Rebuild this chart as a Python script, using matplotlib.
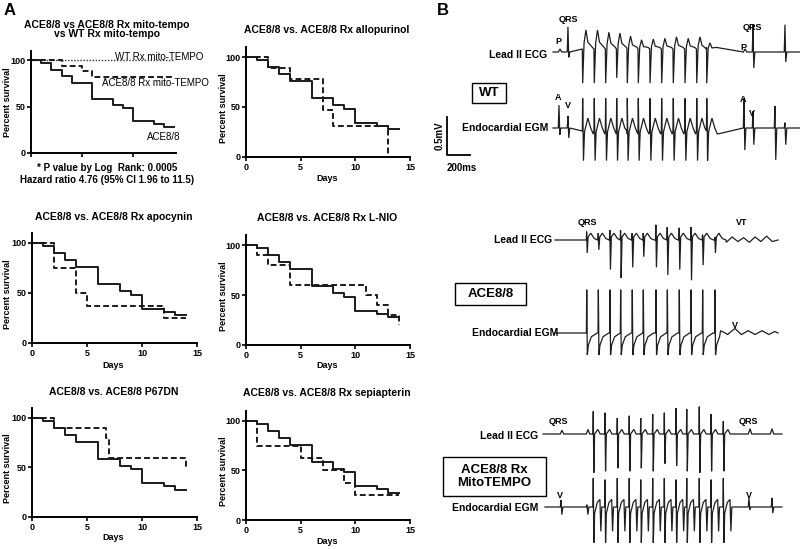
import matplotlib.pyplot as plt
from matplotlib.patches import Rectangle

plt.rcParams['font.family'] = ['Liberation Sans', 'DejaVu Sans']
plt.rcParams['font.weight'] = 'bold'

W, H = 800, 549

# ---------------- Panel A: Kaplan-Meier data (days, % survival) ----------------
ace_days = [0, 1, 2, 3, 4, 6, 8, 9, 10, 12, 13, 14]
ace_surv = [100, 96.6, 89.7, 82.8, 75.9, 58.6, 51.7, 48.3, 34.5, 31.0, 27.6, 27.6]

wt_mito_days = [0, 14]
wt_mito_surv = [100, 100]
ace_mito_days = [0, 3, 5, 6, 14]
ace_mito_surv = [100, 94.1, 88.2, 82.4, 82.4]

allo_days = [0, 2, 4, 7, 8, 13]
allo_surv = [100, 88.9, 77.8, 46.7, 31.1, 0]
apo_days = [0, 2, 4, 5, 12, 14]
apo_surv = [100, 75, 50, 37.5, 25, 25]
lnio_days = [0, 1, 2, 4, 11, 12, 13, 14]
lnio_surv = [100, 90, 80, 60, 50, 40, 30, 20]
p67_days = [0, 2, 6.7, 7, 14]
p67_surv = [100, 90, 80, 60, 50]
sepi_days = [0, 1, 5, 7, 9, 10, 14]
sepi_surv = [100, 75, 62.5, 50, 37.5, 25, 25]

km_titles = ["ACE8/8 vs. ACE8/8 Rx allopurinol",
             "ACE8/8 vs. ACE8/8 Rx apocynin",
             "ACE8/8 vs. ACE8/8 Rx L-NIO",
             "ACE8/8 vs. ACE8/8 P67DN",
             "ACE8/8 vs. ACE8/8 Rx sepiapterin"]
y_ticks = [0, 50, 100]
x_ticks = [0, 5, 10, 15]

# ---------------- Panel B: ECG / EGM beats (ms from trace start, mV) ----------------
MS_PER_PX = 200 / 23.0
MV_PER_PX = 0.5 / 38.0

# WT
wt_p_t = [61, 1670]
wt_p_amp = [0.04, 0.04]
wt_qrs_t = [130, 1739, 2017]
wt_qrs_up = [0.33, 0.36, 0.36]
wt_qrs_dn = [0.07, 0.21, 0.13]
wt_burst_t = [258, 359, 458, 554, 646, 742, 844, 945, 1046, 1148, 1250, 1337]
wt_ecg_up = [0.29, 0.29, 0.26, 0.25, 0.21, 0.16, 0.17, 0.18, 0.20, 0.18, 0.20, 0.12]
wt_ecg_dn = [0.41, 0.41, 0.41, 0.34, 0.41, 0.41, 0.41, 0.41, 0.41, 0.41, 0.41, 0.41]
wt_egm_up = [0.39, 0.39, 0.39, 0.39, 0.39, 0.39, 0.39, 0.39, 0.39, 0.39, 0.39, 0.39]
wt_egm_dn = [0.43, 0.43, 0.43, 0.43, 0.43, 0.43, 0.43, 0.43, 0.43, 0.43, 0.43, 0.43]
wt_a_t = [52, 1661, 1930]
wt_a_up = [0.30, 0.39, 0.29]
wt_a_dn = [0.09, 0.29, 0.42]
wt_v_t = [130, 1739, 2017]
wt_v_up = [0.16, 0.22, 0.07]
wt_v_dn = [0.13, 0.22, 0.22]
wt_end = 2148

# ACE8/8
ace_burst_t = [276, 377, 478, 571, 672, 768, 878, 977, 1081, 1183, 1284, 1391]
ace_ecg_up = [0.11, 0.09, 0.13, 0.13, 0.09, 0.09, 0.20, 0.17, 0.16, 0.17, 0.07, 0.04]
ace_ecg_dn = [0.17, 0.13, 0.39, 0.50, 0.36, 0.22, 0.36, 0.46, 0.39, 0.53, 0.33, 0.17]
ace_egm_up = [0.57, 0.57, 0.57, 0.57, 0.57, 0.57, 0.57, 0.57, 0.57, 0.57, 0.57, 0.57]
ace_egm_dn = [0.29, 0.29, 0.29, 0.29, 0.29, 0.29, 0.29, 0.29, 0.29, 0.29, 0.29, 0.29]
vt_ecg_t = [1440, 1490, 1540, 1590, 1640, 1690, 1740, 1790, 1840, 1890]
vt_ecg_v = [0.05, -0.03, 0.04, -0.02, 0.03, -0.03, 0.04, -0.02, 0.05, -0.02]
vt_egm_t = [1440, 1500, 1565, 1620, 1680, 1740, 1800, 1860, 1910]
vt_egm_v = [0.03, -0.02, 0.06, -0.02, 0.03, -0.02, 0.03, -0.02, 0.02]
ace_end = 1939

# ACE8/8 Rx MitoTEMPO
mito_qrs_t = [165, 391, 1800, 1991]
mito_qrs_up = [0.05, 0.06, 0.07, 0.07]
mito_burst_t = [437, 539, 646, 750, 850, 954, 1055, 1157, 1250, 1359, 1461, 1568]
mito_ecg_up = [0.30, 0.28, 0.21, 0.24, 0.21, 0.26, 0.28, 0.34, 0.33, 0.36, 0.26, 0.17]
mito_ecg_dn = [0.51, 0.49, 0.45, 0.49, 0.45, 0.49, 0.39, 0.42, 0.49, 0.51, 0.49, 0.49]
mito_egm_up = [0.38, 0.36, 0.38, 0.38, 0.36, 0.38, 0.38, 0.36, 0.38, 0.38, 0.36, 0.38]
mito_egm_dn = [0.47, 0.47, 0.47, 0.47, 0.47, 0.47, 0.47, 0.47, 0.47, 0.47, 0.47, 0.47]
mito_v_t = [157, 383, 1791, 1991]
mito_v_up = [0.09, 0.03, 0.12, 0.12]
mito_v_dn = [0.10, 0.10, 0.04, 0.08]
mito_end = 2078


def fx(x):
    return x / W


def fy(y):
    return 1 - y / H


def km_axes(left, bottom, width, height, xmax, xlabels=True):
    ax = fig.add_axes([fx(left), fy(bottom), width / W, height / H])
    ax.set_xlim(0, xmax)
    ax.set_ylim(0, 110)
    for s in ['top', 'right']:
        ax.spines[s].set_visible(False)
    for s in ['left', 'bottom']:
        ax.spines[s].set_linewidth(1.4)
    ax.set_yticks(y_ticks)
    ax.set_xticks([t for t in x_ticks if t <= xmax])
    ax.tick_params(length=3, width=1.2, labelsize=6.5, pad=1)
    if not xlabels:
        ax.set_xticklabels([])
    for lab in ax.get_xticklabels() + ax.get_yticklabels():
        lab.set_fontweight('bold')
    return ax


def km(ax, days, surv, ls='-'):
    if ls == '-':
        ax.step(days, surv, where='post', color='#1a1a1a', lw=1.4, clip_on=False)
    elif ls == '--':
        ax.step(days, surv, where='post', color='#1a1a1a', lw=1.4, dashes=(3, 1.6), clip_on=False)
    else:
        ax.step(days, surv, where='post', color='#333333', lw=1.0, dashes=(1, 1.2), clip_on=False)


fig = plt.figure(figsize=(W / 100, H / 100), dpi=100)

# ---- Panel A ----
fig.text(fx(4), fy(3), "A", fontsize=12, fontweight='bold', va='top')

ax1 = km_axes(31, 153, 145, 102, 14.2, xlabels=False)
km(ax1, wt_mito_days, wt_mito_surv, ':')
km(ax1, ace_mito_days, ace_mito_surv, '--')
km(ax1, ace_days, ace_surv, '-')
fig.text(fx(107), fy(25), "ACE8/8 vs ACE8/8 Rx mito-tempo", fontsize=7.5, ha='center', va='center')
fig.text(fx(107), fy(34), "vs WT Rx mito-tempo", fontsize=7.5, ha='center', va='center')
fig.text(fx(115), fy(57), "WT Rx mito-TEMPO", fontsize=7, fontweight='normal', va='center')
fig.text(fx(102), fy(83), "ACE8/8 Rx mito-TEMPO", fontsize=7, fontweight='normal', va='center')
fig.text(fx(147), fy(137), "ACE8/8", fontsize=7, fontweight='normal', va='center')
fig.text(fx(107), fy(168), "* P value by Log  Rank: 0.0005", fontsize=7, ha='center', va='center')
fig.text(fx(107), fy(180), "Hazard ratio 4.76 (95% CI 1.96 to 11.5)", fontsize=7, ha='center', va='center')
fig.text(fx(7), fy(102), "Percent survival", fontsize=6.5, rotation=90, ha='center', va='center')

# remaining five survival plots
km_boxes = [(246, 157, 164, 110), (32, 343, 165, 110), (246, 345, 164, 110),
            (32, 517, 165, 109), (246, 520, 164, 109)]
km_title_y = [30, 217, 218, 392, 393]
km_days_y = [178, 365, 365, 538, 542]
km_treated = [(allo_days, allo_surv), (apo_days, apo_surv), (lnio_days, lnio_surv),
              (p67_days, p67_surv), (sepi_days, sepi_surv)]
for (l, b, w, h), title, ty, dy, (d, s) in zip(km_boxes, km_titles, km_title_y, km_days_y, km_treated):
    ax = km_axes(l, b, w, h, 15)
    km(ax, ace_days, ace_surv, '-')
    km(ax, d, s, '--')
    cx = l + w / 2 - 1
    fig.text(fx(cx), fy(ty), title, fontsize=7.5, ha='center', va='center')
    fig.text(fx(cx), fy(dy), "Days", fontsize=6.5, ha='center', va='center')
    ylx = 7 if l < 100 else 223
    fig.text(fx(ylx), fy(b - h / 2 + 6), "Percent survival", fontsize=6.5, rotation=90,
             ha='center', va='center')

# ---- Panel B ----
fig.text(fx(437), fy(3), "B", fontsize=12, fontweight='bold', va='top')
axb = fig.add_axes([fx(430), 0, (W - 430) / W, 1])
axb.set_xlim(0, (W - 430) * MS_PER_PX)
axb.set_ylim(0, H * MV_PER_PX)
axb.axis('off')


def spike(t, up, dn):
    return [(t - 6, 0), (t, up), (t + 7, -dn), (t + 16, 0)]


def bump(t, up):
    return [(t - 15, 0), (t, up), (t + 15, 0)]


def wt_ecg_beat(t, up, dn):
    return [(t - 3, 0.04), (t, -dn), (t + 12, up * 0.4), (t + 28, up),
            (t + 45, up * 0.45), (t + 85, 0.06)]


def wt_egm_beat(t, up, dn):
    return [(t - 3, -0.04), (t, up), (t + 7, -dn), (t + 16, -0.05), (t + 45, 0.13),
            (t + 70, 0.0), (t + 92, -0.08)]


def ace_ecg_beat(t, up, dn):
    return [(t - 4, 0), (t - 1, up), (t + 4, -dn), (t + 12, 0.04), (t + 35, 0.09),
            (t + 65, 0.02), (t + 95, 0.0)]


def ace_egm_beat(t, up, dn):
    return [(t - 3, 0), (t, up), (t + 5, -dn), (t + 14, -0.16), (t + 40, -0.05), (t + 90, 0.0)]


def mito_ecg_beat(t, up, dn):
    return [(t - 3, 0), (t, up), (t + 5, -dn), (t + 12, 0.0), (t + 40, 0.06), (t + 60, 0.0)]


def mito_egm_beat(t, up, dn):
    return [(t - 3, 0), (t, up), (t + 5, -dn), (t + 12, -0.08), (t + 35, 0.06), (t + 58, 0.1),
            (t + 66, -0.32), (t + 74, 0.0)]


def draw_trace(t0_px, base_px, start, end, pieces):
    pts = [(start, 0.0), (end, 0.0)]
    for p in pieces:
        pts += p
    pts.sort(key=lambda q: q[0])
    t0 = (t0_px - 430) * MS_PER_PX
    base = (H - base_px) * MV_PER_PX
    axb.plot([t0 + q[0] for q in pts], [base + q[1] for q in pts],
             color='#1e1e1e', lw=0.9, solid_joinstyle='miter')


# WT traces
pieces = [bump(t, a) for t, a in zip(wt_p_t, wt_p_amp)]
pieces += [spike(t, u, d) for t, u, d in zip(wt_qrs_t, wt_qrs_up, wt_qrs_dn)]
pieces += [wt_ecg_beat(t, u, d) for t, u, d in zip(wt_burst_t, wt_ecg_up, wt_ecg_dn)]
draw_trace(553, 52, 0, wt_end, pieces)
pieces = [spike(t, u, d) for t, u, d in zip(wt_a_t, wt_a_up, wt_a_dn)]
pieces += [spike(t, u, d) for t, u, d in zip(wt_v_t, wt_v_up, wt_v_dn)]
pieces += [wt_egm_beat(t, u, d) for t, u, d in zip(wt_burst_t, wt_egm_up, wt_egm_dn)]
draw_trace(553, 128, 0, wt_end, pieces)

# ACE8/8 traces
pieces = [ace_ecg_beat(t, u, d) for t, u, d in zip(ace_burst_t, ace_ecg_up, ace_ecg_dn)]
pieces += [[(t, v)] for t, v in zip(vt_ecg_t, vt_ecg_v)]
draw_trace(555, 240, 0, ace_end, pieces)
pieces = [ace_egm_beat(t, u, d) for t, u, d in zip(ace_burst_t, ace_egm_up, ace_egm_dn)]
pieces += [[(t, v)] for t, v in zip(vt_egm_t, vt_egm_v)]
draw_trace(555, 333, 0, ace_end, pieces)

# MitoTEMPO traces
pieces = [bump(t, u) for t, u in zip(mito_qrs_t, mito_qrs_up)]
pieces += [mito_ecg_beat(t, u, d) for t, u, d in zip(mito_burst_t, mito_ecg_up, mito_ecg_dn)]
draw_trace(543, 434, 0, mito_end, pieces)
pieces = [spike(t, u, d) for t, u, d in zip(mito_v_t, mito_v_up, mito_v_dn)]
pieces += [mito_egm_beat(t, u, d) for t, u, d in zip(mito_burst_t, mito_egm_up, mito_egm_dn)]
draw_trace(543, 507, 17, mito_end, pieces)

# scale bar: 200 ms x 0.5 mV
sx = (447 - 430) * MS_PER_PX
sy = (H - 155) * MV_PER_PX
axb.plot([sx, sx, sx + 200], [sy + 0.5, sy, sy], color='black', lw=1.3)
fig.text(fx(440), fy(136), "0.5mV", fontsize=7, rotation=90, ha='center', va='center')
fig.text(fx(462), fy(168), "200ms", fontsize=7, ha='center', va='center')

# labels
lab = dict(fontsize=7.5, ha='right', va='center')
fig.text(fx(547), fy(55), "Lead II ECG", **lab)
fig.text(fx(548), fy(128), "Endocardial EGM", **lab)
fig.text(fx(552), fy(240), "Lead II ECG", **lab)
fig.text(fx(558), fy(333), "Endocardial EGM", **lab)
fig.text(fx(538), fy(436), "Lead II ECG", **lab)
fig.text(fx(538), fy(508), "Endocardial EGM", **lab)

small = dict(fontsize=6.5, ha='center', va='center')
for x, y, s in [(568, 20, "QRS"), (558, 42, "P"), (752, 27, "QRS"), (743, 48, "P"),
                (558, 97, "A"), (568, 106, "V"), (743, 100, "A"), (752, 114, "V"),
                (587, 223, "QRS"), (742, 223, "VT"), (735, 325, "V"),
                (558, 422, "QRS"), (748, 422, "QRS"), (560, 495, "V"), (749, 495, "V")]:
    fig.text(fx(x), fy(y), s, **small)

# group boxes
for x0, y0, x1, y1, s in [(472, 83, 506, 103, "WT"), (455, 283, 526, 305, "ACE8/8"),
                          (443, 457, 546, 496, "ACE8/8 Rx\nMitoTEMPO")]:
    fig.add_artist(Rectangle((fx(x0), fy(y1)), (x1 - x0) / W, (y1 - y0) / H,
                             transform=fig.transFigure, fill=False, lw=1.0, ec='black'))
    fig.text(fx((x0 + x1) / 2), fy((y0 + y1) / 2), s, fontsize=9.5, ha='center',
             va='center', linespacing=1.15)

fig.savefig("out.png", dpi=100)
